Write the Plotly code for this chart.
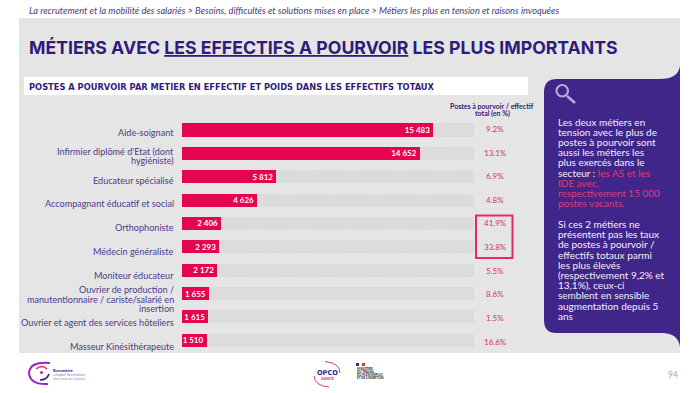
import plotly.graph_objects as go

W, H = 699, 393

categories = ["Aide-soignant", "Infirmier diplômé d'Etat (dont<br>hygiéniste)", "Educateur spécialisé",
              "Accompagnant éducatif et social", "Orthophoniste", "Médecin généraliste", "Moniteur éducateur",
              "Ouvrier de production /<br>manutentionnaire / cariste/salarié en<br>insertion",
              "Ouvrier et agent des services hôteliers", "Masseur Kinésithérapeute"]
postes = [15483, 14652, 5812, 4626, 2406, 2293, 2172, 1655, 1615, 1510]
poids = ["9.2%", "13.1%", "6.9%", "4.8%", "41.9%", "33.8%", "5.5%", "8.6%", "1.5%", "16.6%"]
axis_max = 18000
remainder = [axis_max - v for v in postes]
value_labels = [f"{v:,}".replace(",", " ") for v in postes]

PINK = "#e5054f"
SOFT = "#d2336f"
NAVY = "#2f1c78"
INK = "#4a3c86"
PURPLE = "#41268a"
GREY = "#e6e5e6"

def px(x): return x / W
def py(y): return 1 - y / H

fig = go.Figure()
fig.add_bar(y=categories, x=postes, orientation="h", marker=dict(color=PINK, line=dict(width=0)),
            text=value_labels, textposition="inside", insidetextanchor="end", constraintext="none", textangle=0,
            textfont=dict(family="Lato", size=8, color="white", weight="bold"), hoverinfo="skip", cliponaxis=False)
fig.add_bar(y=categories, x=remainder, orientation="h",
            marker=dict(color=GREY, line=dict(width=0),
                        pattern=dict(shape="/", size=2, solidity=0.5, fgcolor="#c6c5c6", bgcolor="#e4e3e4")),
            hoverinfo="skip")
# invisible trace giving the category labels an axis with their own spacing
fig.add_bar(y=categories, x=[0] * len(categories), orientation="h", yaxis="y2", marker=dict(opacity=0), hoverinfo="skip")

shapes = [
    dict(type="rect", x0=px(19), x1=px(680), y0=py(18), y1=py(353), xref="paper", yref="paper",
         fillcolor=GREY, line_width=0, layer="below"),
    dict(type="rect", x0=px(24), x1=px(528), y0=py(77), y1=py(95), xref="paper", yref="paper",
         fillcolor="white", line_width=0, layer="below"),
    dict(type="path", xref="paper", yref="paper", layer="below", fillcolor=PURPLE, line_width=0,
         path=f"M{px(544)},{py(92)} Q{px(544)},{py(79)} {px(557)},{py(79)} L{px(660)},{py(79)} "
              f"Q{px(678)},{py(79)} {px(680)},{py(66)} L{px(680)},{py(347)} Q{px(678)},{py(333)} {px(662)},{py(333)} "
              f"L{px(556)},{py(333)} Q{px(544)},{py(333)} {px(544)},{py(320)} Z"),
    dict(type="rect", x0=px(476), x1=px(512.5), y0=py(215.5), y1=py(258), xref="paper", yref="paper",
         line=dict(color="#e8256d", width=2), fillcolor="rgba(0,0,0,0)", layer="above"),
    dict(type="circle", x0=px(556.5), x1=px(568), y0=py(85), y1=py(96.5), xref="paper", yref="paper",
         line=dict(color="#b9aad8", width=2.2), fillcolor="rgba(0,0,0,0)", layer="above"),
    dict(type="line", x0=px(567), x1=px(575), y0=py(96), y1=py(103), xref="paper", yref="paper",
         line=dict(color="#b9aad8", width=2.6), layer="above"),
    dict(type="path", xref="paper", yref="paper", layer="above", line=dict(color="#a020c8", width=2),
         path=f"M{px(50)},{py(363)} Q{px(30)},{py(361)} {px(29)},{py(373)} Q{px(30)},{py(385)} {px(48)},{py(384)}"),
    dict(type="path", xref="paper", yref="paper", layer="above", line=dict(color="#e01a6e", width=1.2),
         path=f"M{px(36)},{py(369)} Q{px(42)},{py(364)} {px(47)},{py(369)}"),
    dict(type="path", xref="paper", yref="paper", layer="above", line=dict(color="#2f1c78", width=1.6),
         path=f"M{px(40)},{py(380)} Q{px(47)},{py(380)} {px(49)},{py(374)}"),
    dict(type="circle", x0=px(40), x1=px(43), y0=py(371), y1=py(374), xref="paper", yref="paper",
         fillcolor="#e01a6e", line_width=0, layer="above"),
    dict(type="path", xref="paper", yref="paper", layer="above", line=dict(color="#d8366f", width=1),
         path=f"M{px(325)},{py(361.5)} Q{px(340)},{py(363)} {px(340)},{py(373)}"),
    dict(type="path", xref="paper", yref="paper", layer="above", line=dict(color="#d8366f", width=1),
         path=f"M{px(314)},{py(376)} Q{px(315)},{py(386)} {px(329)},{py(387)}"),
    dict(type="rect", x0=px(356), x1=px(359), y0=py(363), y1=py(366), xref="paper", yref="paper",
         fillcolor="#27307f", line_width=0, layer="above"),
    dict(type="rect", x0=px(362), x1=px(365), y0=py(363), y1=py(366), xref="paper", yref="paper",
         fillcolor="#d9303e", line_width=0, layer="above"),
]

anns = []
def text(x, y, s, size, color, family="Lato", anchor="left", **kw):
    anns.append(dict(x=px(x), y=py(y), xref="paper", yref="paper", text=s, showarrow=False, xanchor=anchor,
                     yanchor="middle", align=anchor, font=dict(family=family, size=size, color=color, **kw)))

text(27, 11, "La recrutement et la mobilité des salariés &gt; Besoins, difficultés et solutions mises en place &gt; Métiers les plus en tension et raisons invoquées",
     9.27, "#463a7e", style="italic")
text(27, 47, "<b>MÉTIERS AVEC <u>LES EFFECTIFS A POURVOIR</u> LES PLUS IMPORTANTS</b>", 17.7, NAVY, family="Inter")
text(27, 86.5, "<b>POSTES A POURVOIR PAR METIER EN EFFECTIF ET POIDS DANS LES EFFECTIFS TOTAUX</b>", 8.3, NAVY, family="DejaVu Sans")
text(492, 105.5, "<b>Postes à pourvoir / effectif</b>", 7, NAVY, anchor="center")
text(492, 113.5, "<b>total (en %)</b>", 7, NAVY, anchor="center")

# category labels, one annotation per line for the tight leading
LEAD = 9.2
for cat in categories:
    parts = cat.split("<br>")
    for j, part in enumerate(parts):
        off = (j - (len(parts) - 1) / 2) * LEAD
        anns.append(dict(x=px(175.5), xref="paper", y=cat, yref="y2", yshift=-off, text=part, showarrow=False,
                         xanchor="right", font=dict(family="Lato", size=9.1, color=INK)))

# percentage column
for i, p in enumerate(poids):
    anns.append(dict(x=px(495), xref="paper", xanchor="center", y=categories[i], yref="y", yshift=1 - 0.25 * i,
                     text=p, showarrow=False, font=dict(family="Lato", size=8, color=SOFT)))

WHITE = "#f3effa"
ROSE = "#dc3c7c"
panel_lines = [
    (121.5, "Les deux métiers en", WHITE), (131.7, "tension avec le plus de", WHITE), (141.9, "postes à pourvoir sont", WHITE),
    (152.1, "aussi les métiers les", WHITE), (162.3, "plus exercés dans le", WHITE),
    (172.5, f"secteur : <span style='color:{ROSE}'>les AS et les</span>", WHITE),
    (182.7, "IDE avec,", ROSE), (192.9, "respectivement 15 000", ROSE), (203.1, "postes vacants.", ROSE),
    (224, "Si ces 2 métiers ne", WHITE), (234.2, "présentent pas les taux", WHITE), (244.4, "de postes à pourvoir /", WHITE),
    (254.6, "effectifs totaux parmi", WHITE), (264.8, "les plus élevés", WHITE), (275, "(respectivement 9,2% et", WHITE),
    (285.2, "13,1%), ceux-ci", WHITE), (295.4, "semblent en sensible", WHITE), (305.6, "augmentation depuis 5", WHITE),
    (315.8, "ans", WHITE),
]
for y, s, c in panel_lines:
    text(555.5, y, s, 10, c)

text(51, 370.5, "<b>Baromètre</b>", 4.2, NAVY)
text(51, 374.5, "emploi-formation", 4.2, "#8f7fc0")
text(51, 378.5, "observatoire de la branche", 2.8, "#8f7fc0")
text(327, 372.5, "<b>OPCO</b>", 6.6, NAVY, anchor="center", family="DejaVu Sans")
text(327, 378.5, "<b>SANTÉ</b>", 4, "#d8366f", anchor="center")
for i, s in enumerate(["MINISTÈRE", "DU TRAVAIL,", "DU PLEIN EMPLOI", "ET DE L'INSERTION"]):
    text(355, 368.5 + 3.3 * i, f"<b>{s}</b>", 3, "#222222")
text(680, 375, "94", 8.5, "#a8a8a8", anchor="right")

ax_top, ax_bot = 118.3, 352
lab_top, lab_bot = 120.6, 358.6
fig.update_layout(
    width=W, height=H, margin=dict(l=0, r=0, t=0, b=0), autosize=False,
    paper_bgcolor="white", plot_bgcolor="rgba(0,0,0,0)", showlegend=False,
    barmode="stack", bargap=0.44, shapes=shapes, annotations=anns,
    xaxis=dict(domain=[px(182), px(474)], range=[0, axis_max], visible=False, fixedrange=True),
    yaxis=dict(domain=[py(ax_bot), py(ax_top)], autorange="reversed", showticklabels=False, showgrid=False,
               zeroline=False, ticks="", showline=False, categoryorder="array", categoryarray=categories),
    yaxis2=dict(domain=[py(lab_bot), py(lab_top)], anchor="x", autorange="reversed", showgrid=False, zeroline=False,
                showticklabels=False, ticks="", showline=False, categoryorder="array", categoryarray=categories),
)
fig.write_html("out.html", config={"displayModeBar": False},
               post_script="document.body.style.margin='0';document.documentElement.style.overflow='hidden';")
